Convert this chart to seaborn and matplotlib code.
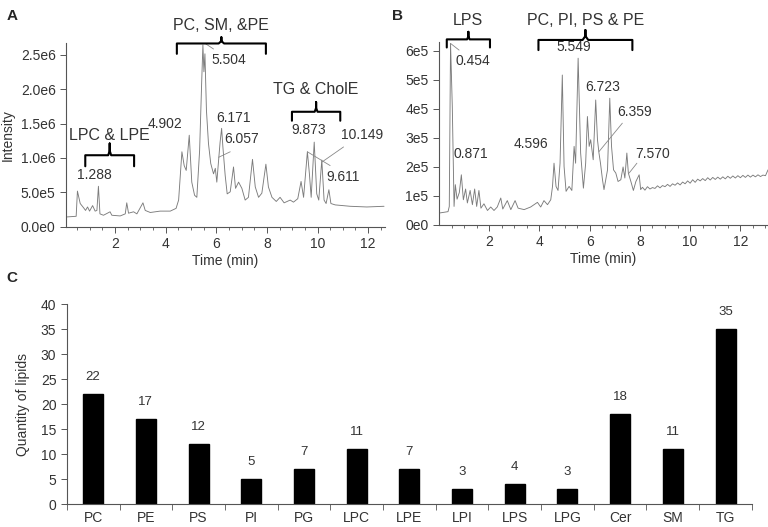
import numpy as np
import pandas as pd
import seaborn as sns
import matplotlib.pyplot as plt

# ------------------------------------------------------------------
# Dados
# ------------------------------------------------------------------

# Painel A - cromatograma (tempo em min, intensidade em 1e6)
tempo_a = [0.07, 0.46, 0.51, 0.62, 0.75, 0.83, 0.91, 0.99, 1.11, 1.21, 1.28, 1.34, 1.40,
           1.54, 1.80, 1.87, 2.20, 2.40, 2.46, 2.53, 2.73, 2.86, 3.10, 3.19, 3.39, 3.78,
           4.18, 4.41, 4.51, 4.64, 4.73, 4.81, 4.93, 5.03, 5.14, 5.23, 5.34, 5.42, 5.47,
           5.51, 5.55, 5.61, 5.69, 5.78, 5.89, 5.96, 6.02, 6.10, 6.15, 6.21, 6.26, 6.35,
           6.43, 6.55, 6.68, 6.76, 6.88, 7.01, 7.14, 7.27, 7.43, 7.54, 7.67, 7.80, 7.96,
           8.06, 8.20, 8.37, 8.52, 8.68, 8.92, 9.05, 9.22, 9.35, 9.45, 9.60, 9.68, 9.75,
           9.87, 9.97, 10.05, 10.17, 10.26, 10.34, 10.45, 10.53, 10.70, 11.29, 11.95, 12.63]
intens_a = [0.145, 0.155, 0.52, 0.34, 0.28, 0.24, 0.29, 0.23, 0.31, 0.23, 0.24, 0.59, 0.19,
            0.17, 0.22, 0.17, 0.16, 0.19, 0.35, 0.20, 0.22, 0.19, 0.35, 0.24, 0.21, 0.23,
            0.23, 0.27, 0.39, 1.09, 0.89, 0.82, 1.33, 0.65, 0.46, 0.43, 1.11, 2.08, 2.64,
            2.25, 2.51, 1.69, 1.21, 0.92, 0.77, 0.85, 0.65, 1.01, 1.23, 1.43, 1.16, 0.75,
            0.48, 0.51, 0.87, 0.56, 0.65, 0.56, 0.39, 0.43, 0.98, 0.58, 0.43, 0.49, 0.91,
            0.58, 0.43, 0.37, 0.43, 0.35, 0.39, 0.36, 0.41, 0.66, 0.43, 1.09, 0.77, 0.43,
            1.23, 0.48, 0.39, 0.97, 0.39, 0.34, 0.54, 0.34, 0.32, 0.30, 0.29, 0.30]

# Painel B - cromatograma (tempo em min, intensidade em 1e5)
tempo_b = [0.00, 0.36, 0.41, 0.46, 0.53, 0.60, 0.65, 0.72, 0.81, 0.89, 0.97, 1.06, 1.13,
           1.24, 1.33, 1.42, 1.50, 1.59, 1.67, 1.79, 1.93, 2.06, 2.19, 2.32, 2.46, 2.54,
           2.72, 2.86, 3.03, 3.15, 3.39, 3.65, 3.92, 4.05, 4.18, 4.32, 4.45, 4.52, 4.58,
           4.66, 4.74, 4.82, 4.91, 4.98, 5.06, 5.18, 5.29, 5.38, 5.44, 5.54, 5.64, 5.75,
           5.84, 5.91, 5.98, 6.04, 6.14, 6.24, 6.31, 6.37, 6.43, 6.51, 6.57, 6.71, 6.80,
           6.87, 6.95, 7.04, 7.13, 7.24, 7.33, 7.40, 7.48, 7.54, 7.64, 7.74, 7.84, 7.97,
           8.03, 8.1, 8.2, 8.3, 8.4, 8.5, 8.6, 8.7, 8.8, 8.9, 9.0, 9.1, 9.2, 9.3, 9.4,
           9.5, 9.6, 9.7, 9.8, 9.9, 10.0, 10.1, 10.2, 10.3, 10.4, 10.5, 10.6, 10.7, 10.8,
           10.9, 11.0, 11.1, 11.2, 11.3, 11.4, 11.5, 11.6, 11.7, 11.8, 11.9, 12.0, 12.1,
           12.2, 12.3, 12.4, 12.5, 12.6, 12.7, 12.8, 12.9, 13.0, 13.1]
intens_b = [0.41, 0.46, 0.64, 6.26, 4.08, 0.64, 1.39, 0.89, 1.12, 1.73, 0.87, 1.24, 0.76,
            1.19, 0.70, 1.24, 0.64, 1.19, 0.58, 0.73, 0.50, 0.62, 0.50, 0.62, 0.93, 0.55,
            0.84, 0.53, 0.84, 0.58, 0.53, 0.62, 0.78, 0.62, 0.84, 0.70, 0.87, 1.33, 2.13,
            1.33, 1.19, 2.13, 5.17, 2.02, 1.16, 1.33, 1.19, 2.71, 2.13, 5.75, 2.48, 1.27,
            2.13, 3.74, 2.71, 2.94, 2.25, 4.31, 2.94, 2.48, 2.13, 1.56, 1.22, 1.90, 4.37,
            2.71, 1.90, 1.79, 1.50, 1.56, 2.00, 1.62, 2.48, 1.79, 1.50, 1.19, 1.50, 1.73,
            1.22, 1.30, 1.20, 1.32, 1.24, 1.29, 1.26, 1.35, 1.28, 1.36, 1.32, 1.40, 1.33,
            1.42, 1.37, 1.45, 1.38, 1.48, 1.42, 1.52, 1.44, 1.56, 1.47, 1.58, 1.52, 1.60,
            1.53, 1.63, 1.55, 1.64, 1.57, 1.65, 1.58, 1.66, 1.59, 1.68, 1.61, 1.69, 1.62,
            1.70, 1.63, 1.71, 1.64, 1.72, 1.65, 1.72, 1.66, 1.73, 1.67, 1.72, 1.70, 1.90]

# Rótulos dos picos: (texto, tempo, intensidade)
rotulos_a = [("5.504", 6.48, 2.42), ("9.873", 9.64, 1.41), ("10.149", 11.75, 1.33),
             ("9.611", 11.03, 0.73), ("6.171", 6.68, 1.58), ("6.057", 7.01, 1.27),
             ("4.902", 3.98, 1.49), ("1.288", 1.19, 0.76)]
rotulos_b = [("0.454", 1.35, 5.67), ("5.549", 5.35, 6.15), ("6.723", 6.51, 4.75),
             ("6.359", 7.77, 3.88), ("4.596", 3.65, 2.80), ("0.871", 1.26, 2.45),
             ("7.570", 8.50, 2.45)]

# Grupos de lipídios com chaves: (texto, inicio, fim, topo, base, ponta, y_texto)
grupos_a = [("LPC & LPE", 0.82, 2.75, 1.04, 0.88, 1.21, 1.33),
            ("PC, SM, &PE", 4.44, 7.96, 2.66, 2.51, 2.75, 2.92),
            ("TG & CholE", 8.99, 10.90, 1.67, 1.54, 1.81, 1.99)]
grupos_b = [("LPS", 0.31, 2.03, 6.40, 6.12, 6.66, 7.04),
            ("PC, PI, PS & PE", 3.96, 7.70, 6.38, 6.03, 6.72, 7.04)]

# Linhas-guia dos rótulos: (t0, y0, t1, y1)
guias_a = [(5.56, 2.66, 5.89, 2.58), (6.55, 1.09, 6.09, 1.01),
           (11.03, 1.16, 10.17, 0.94), (10.50, 0.89, 9.60, 1.09)]
guias_b = [(0.46, 6.26, 0.80, 6.03), (7.30, 3.51, 6.37, 2.53), (7.88, 2.13, 7.57, 1.79)]

# Painel C - quantidade de lipídios por classe
classes = ["PC", "PE", "PS", "PI", "PG", "LPC", "LPE", "LPI", "LPS", "LPG", "Cer", "SM", "TG"]
quantidades = [22, 17, 12, 5, 7, 11, 7, 3, 4, 3, 18, 11, 35]

# ------------------------------------------------------------------
# Estilo
# ------------------------------------------------------------------
sns.set_style("ticks")
plt.rcParams["font.family"] = ["Liberation Sans", "DejaVu Sans"]
cor_texto = "#333333"
cor_eixo = "#555555"
cor_linha = "#7c7c7c"

fig = plt.figure(figsize=(7.68, 5.27), dpi=100)
ax_a = fig.add_axes([0.086, 0.5693, 0.4147, 0.3482])
ax_b = fig.add_axes([0.5716, 0.5731, 0.4284, 0.3467])
ax_c = fig.add_axes([0.087, 0.0436, 0.892, 0.3795])


def estilo_eixo(ax):
    sns.despine(ax=ax)
    for s in ["left", "bottom"]:
        ax.spines[s].set_color(cor_eixo)
        ax.spines[s].set_linewidth(0.8)
    ax.tick_params(colors=cor_eixo, labelcolor=cor_texto, labelsize=10,
                   width=0.7, length=4)
    ax.tick_params(which="minor", colors=cor_eixo, width=0.6, length=2)


def desenha_chave(ax, x0, x1, topo, base, ponta):
    meio = (x0 + x1) / 2
    dx = (x1 - x0) * 0.03
    xs = [x0, x0, meio - dx, meio, meio, meio, meio + dx, x1, x1]
    ys = [base, topo, topo, topo + (ponta - topo) * 0.4, ponta,
          topo + (ponta - topo) * 0.4, topo, topo, base]
    ax.plot(xs, ys, color="black", lw=1.5, clip_on=False, solid_joinstyle="round")


def cromatograma(ax, tempo, intens, escala, xlim, ylim, yticks, ylabels,
                 rotulos, grupos, guias):
    df = pd.DataFrame({"tempo": tempo, "intensidade": np.array(intens) * escala})
    sns.lineplot(data=df, x="tempo", y="intensidade", ax=ax, color=cor_linha,
                 lw=0.65, estimator=None)
    ax.set_xlim(*xlim)
    ax.set_ylim(0, ylim * escala)
    ax.set_xticks([2, 4, 6, 8, 10, 12])
    ax.set_xticks(np.arange(0.5, xlim[1], 0.5), minor=True)
    ax.set_yticks(np.array(yticks) * escala)
    ax.set_yticklabels(ylabels)
    ax.set_xlabel("Time (min)", fontsize=10, color=cor_texto, labelpad=2)
    estilo_eixo(ax)
    for txt, t, y in rotulos:
        ax.text(t, y * escala, txt, ha="center", va="center", fontsize=10,
                color=cor_texto, clip_on=False)
    for t0, y0, t1, y1 in guias:
        ax.plot([t0, t1], [y0 * escala, y1 * escala], color="#888888", lw=0.6,
                clip_on=False)
    for txt, x0, x1, topo, base, ponta, yt in grupos:
        desenha_chave(ax, x0, x1, topo * escala, base * escala, ponta * escala)
        ax.text((x0 + x1) / 2, yt * escala, txt, ha="center", va="center",
                fontsize=11.5, color=cor_texto, clip_on=False)


cromatograma(ax_a, tempo_a, intens_a, 1e6, (0.06, 12.65), 2.66,
             [0, 0.5, 1.0, 1.5, 2.0, 2.5],
             ["0.0e0", "5.0e5", "1.0e6", "1.5e6", "2.0e6", "2.5e6"],
             rotulos_a, grupos_a, guias_a)
ax_a.set_ylabel("Intensity", fontsize=10, color=cor_texto, labelpad=4)

cromatograma(ax_b, tempo_b, intens_b, 1e5, (0.0, 13.1), 6.3,
             [0, 1, 2, 3, 4, 5, 6],
             ["0e0", "1e5", "2e5", "3e5", "4e5", "5e5", "6e5"],
             rotulos_b, grupos_b, guias_b)
ax_b.set_ylabel("")

# ------------------------------------------------------------------
# Painel C - barras
# ------------------------------------------------------------------
df_c = pd.DataFrame({"classe": classes, "quantidade": quantidades})
sns.barplot(data=df_c, x="classe", y="quantidade", ax=ax_c, color="black",
            width=0.38, edgecolor="black", saturation=1)
ax_c.set_xlim(-0.5, len(classes) - 0.5)
ax_c.set_ylim(0, 40)
ax_c.set_yticks(range(0, 41, 5))
ax_c.set_xticks(np.arange(-0.5, len(classes), 1.0), minor=True)
estilo_eixo(ax_c)
ax_c.tick_params(axis="x", which="major", length=0, pad=5)
ax_c.tick_params(axis="x", which="minor", length=4)
ax_c.set_xlabel("")
ax_c.set_ylabel("Quantity of lipids", fontsize=10, color=cor_texto, labelpad=8)
for i, q in enumerate(quantidades):
    ax_c.text(i, q + 3.4, str(q), ha="center", va="center", fontsize=9.5,
              color=cor_texto)

# Letras dos painéis
fig.text(0.008, 0.982, "A", fontsize=11, fontweight="bold", va="top")
fig.text(0.510, 0.982, "B", fontsize=11, fontweight="bold", va="top")
fig.text(0.008, 0.485, "C", fontsize=11, fontweight="bold", va="top")

fig.savefig("out.png", dpi=100)
